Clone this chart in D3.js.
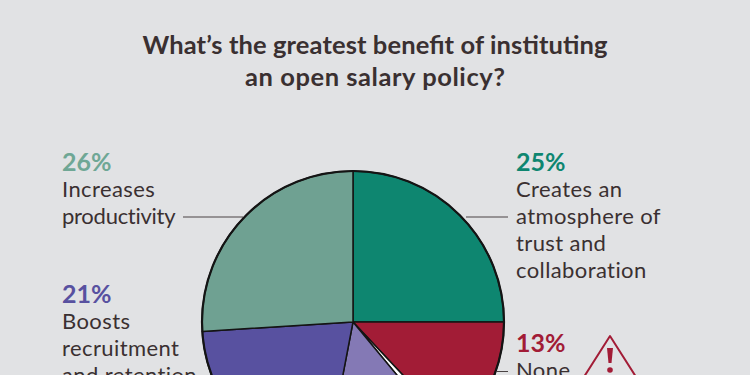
<!DOCTYPE html>
<html lang="en">
<head>
    <meta charset="UTF-8">
    <title>Open salary policy pie</title>
    <script src="https://d3js.org/d3.v7.min.js"></script>
    <style>
        html, body { margin: 0; padding: 0; background: #e1e2e4; overflow: hidden; }
        svg { display: block; }
        text { font-family: "Lato", sans-serif; }
        .title { font-size: 25.5px; font-weight: 700; fill: #3a3031; text-anchor: middle; }
        .pct { font-size: 25px; font-weight: 700; }
        .desc { font-size: 22px; fill: #3a3031; letter-spacing: 0.4px; }
    </style>
</head>
<body>
    <svg width="750" height="375"></svg>

    <script>
        // Slices run clockwise from 12 o'clock. The white and light purple ones
        // have their labels below the crop, so only the value is known.
        const sliceValues = [25, 13, 1, 14, 21, 26];
        const sliceColors = ["#0e8670", "#a21c36", "#ffffff", "#8479b5", "#5851a0", "#6fa192"];

        const titleLines = ["What\u2019s the greatest benefit of instituting", "an open salary policy?"];

        const labelPercents = ["26%", "21%", "25%", "13%"];
        const labelColors = ["#6fa795", "#5851a0", "#0e8670", "#a21c36"];
        const labelLines = [
            ["Increases", "productivity"],
            ["Boosts", "recruitment", "and retention"],
            ["Creates an", "atmosphere of", "trust and", "collaboration"],
            ["None"]
        ];
        const labelX = [62, 62, 516, 516];
        const labelY = [171, 303, 171, 352];

        const svg = d3.select("svg");
        const cx = 353, cy = 322, radius = 151;

        // Title, stretched a little to the width of the original lines
        const titleWidths = [465, 260];
        svg.selectAll(".title")
            .data(titleLines)
            .enter()
            .append("text")
            .attr("class", "title")
            .attr("x", 375)
            .attr("y", function(d, i) { return 54 + i * 32; })
            .attr("textLength", function(d, i) { return titleWidths[i]; })
            .attr("lengthAdjust", "spacing")
            .text(function(d) { return d; });

        // Leader lines sit behind the pie
        const leaders = [[183, 243, 217], [466, 508, 217], [497, 508, 371.5]];
        svg.selectAll(".leader")
            .data(leaders)
            .enter()
            .append("line")
            .attr("class", "leader")
            .attr("x1", function(d) { return d[0]; })
            .attr("x2", function(d) { return d[1]; })
            .attr("y1", function(d) { return d[2]; })
            .attr("y2", function(d) { return d[2]; })
            .attr("stroke", "#4a4344")
            .attr("stroke-width", 1);

        // Pie
        const pie = d3.pie().sort(null);
        const arc = d3.arc().innerRadius(0).outerRadius(radius);
        const pieGroup = svg.append("g")
            .attr("transform", "translate(" + cx + "," + cy + ")");

        pieGroup.selectAll("path")
            .data(pie(sliceValues))
            .enter()
            .append("path")
            .attr("d", arc)
            .attr("fill", function(d, i) { return sliceColors[i]; })
            .attr("stroke", "#141414")
            .attr("stroke-width", 1.5)
            .attr("stroke-linejoin", "round");

        // Outer rim is heavier than the slice dividers
        pieGroup.append("circle")
            .attr("r", radius)
            .attr("fill", "none")
            .attr("stroke", "#141414")
            .attr("stroke-width", 2.2);

        // Labels
        labelPercents.forEach(function(pct, i) {
            svg.append("text")
                .attr("class", "pct")
                .attr("x", labelX[i])
                .attr("y", labelY[i])
                .attr("fill", labelColors[i])
                .text(pct);
            labelLines[i].forEach(function(line, j) {
                const t = svg.append("text")
                    .attr("class", "desc")
                    .attr("x", labelX[i])
                    .attr("y", labelY[i] + 26 + j * 27)
                    .text(line);
                // this word runs into its leader otherwise
                if (line === "productivity") t.attr("textLength", 114);
            });
        });

        // Warning sign next to the 13% label
        const warning = svg.append("g").attr("transform", "translate(610,336)");
        warning.append("path")
            .attr("d", "M-42,66 L0,0 L42,66 Z")
            .attr("fill", "none")
            .attr("stroke", "#a21c36")
            .attr("stroke-width", 2)
            .attr("stroke-linejoin", "round");
        warning.append("path")
            .attr("d", "M-3,12 L3,12 L1.5,27 L-1.5,27 Z")
            .attr("fill", "#a21c36");
        warning.append("circle")
            .attr("cy", 34)
            .attr("r", 2.8)
            .attr("fill", "#a21c36");
    </script>
</body>
</html>
